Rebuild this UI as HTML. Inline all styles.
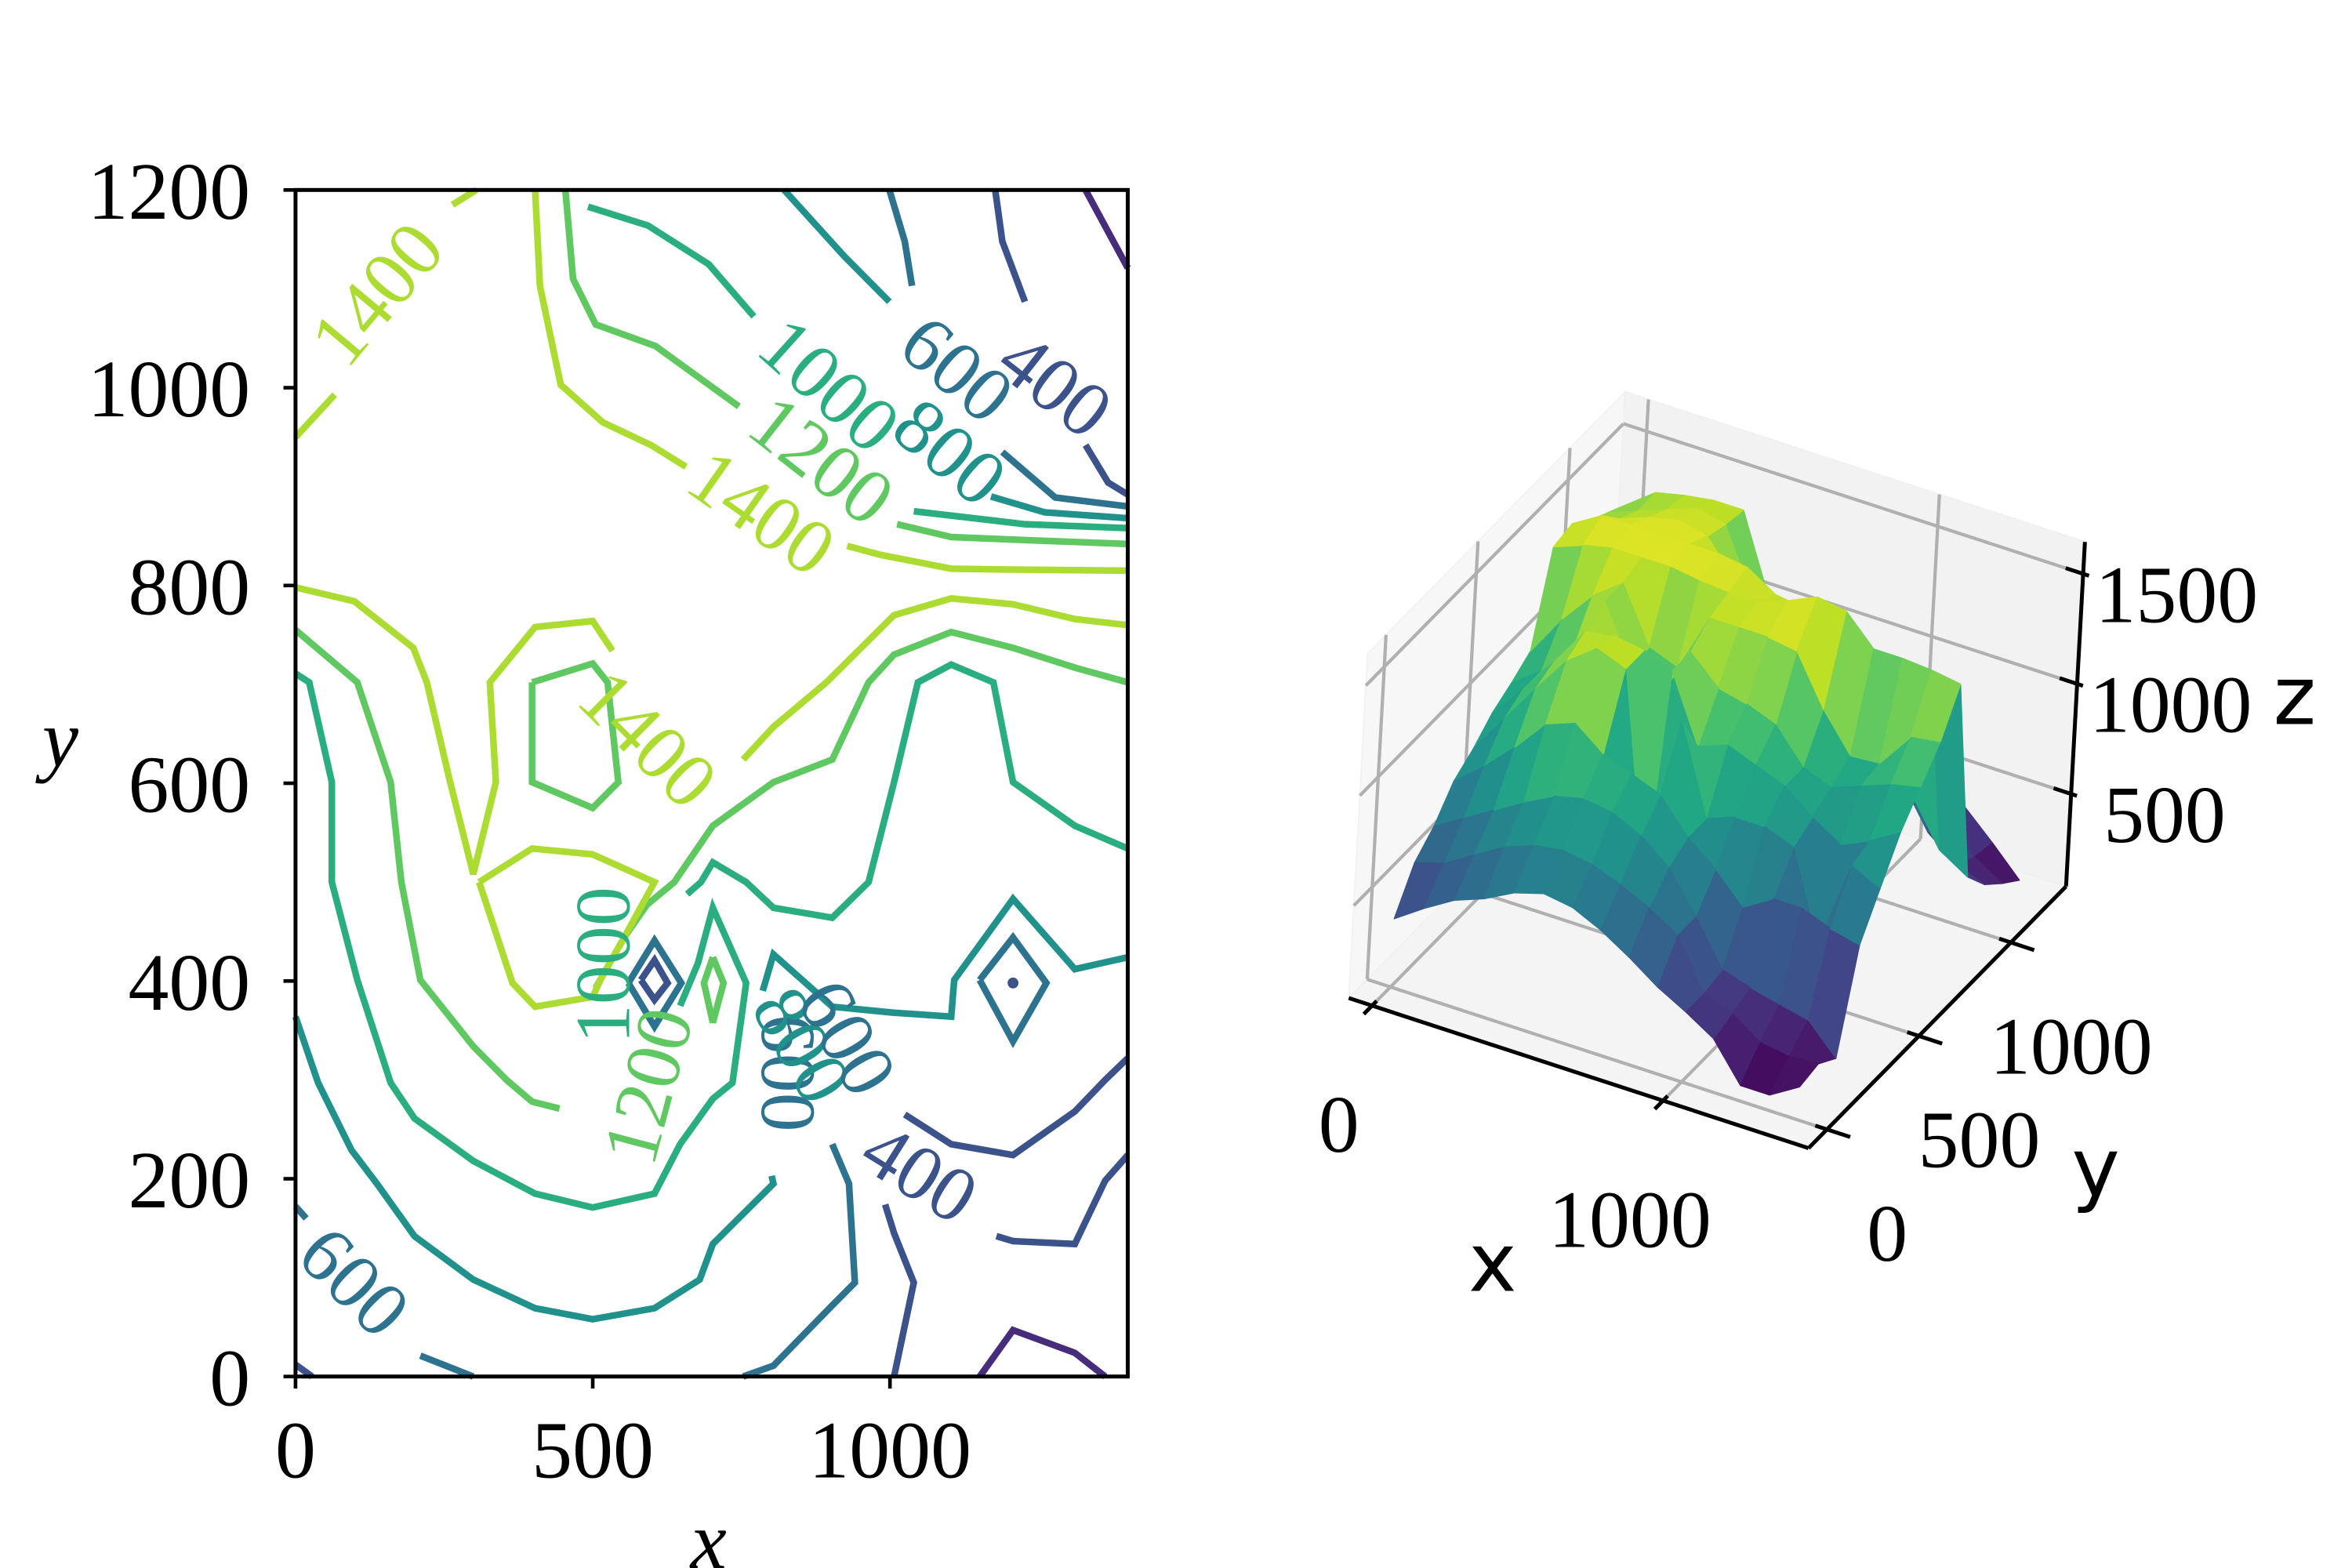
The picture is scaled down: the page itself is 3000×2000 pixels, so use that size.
<!DOCTYPE html>
<html><head><meta charset="utf-8"><title>Contour and surface plot</title>
<style>html,body{margin:0;padding:0;background:#fff;}svg{display:block;}</style>
</head><body>
<svg id="s" xmlns="http://www.w3.org/2000/svg" width="3000" height="2000" viewBox="0 0 1560 1040">
<rect x="0" y="0" width="1560" height="1040" fill="#fff"/>
<g id="contourPlot"></g>
<g id="surfacePlot"></g>
</svg>
<script>
// ---------- contour data (data units, flat x,y pairs) ----------
const xTickVals = [0, 500, 1000];
const yTickVals = [0, 200, 400, 600, 800, 1000, 1200];
const contourLevels = [200, 400, 600, 800, 1000, 1200, 1400];
const level200 = [[1329,1200,1400,1121],[1151,0,1207,47,1311,24,1362,0]];
const level400 = [[1177,1200,1189,1148,1227,1087],[1329,942,1367,904,1400,892],[1400,322,1362,300,1311,268,1207,224,1103,235,1025,265],[992,174,1007,145,1040,95,1007,0],[1179,142,1207,137,1311,134,1362,198,1400,224],[0,12,28,0],[581,401,604,421,626,398,604,381,581,401]];
const level600 = [[999,1200,1025,1148,1037,1103],[1189,935,1278,889,1400,880],[1151,401,1207,444,1263,398,1207,339,1151,401],[560,398,604,441,649,398,604,354,560,398],[0,172,18,160],[210,21,299,0],[753,0,804,11,903,72,941,95,931,195,903,235]];
const level800 = [[822,1200,923,1133,999,1087],[1170,890,1260,874,1400,868],[0,364,38,297,94,229,137,195,200,142,299,98,403,69,500,58,604,69,680,98,702,134,804,195,801,203],[786,390,804,427,903,374,1007,368,1103,364,1108,401,1207,483,1311,412,1400,424]];
const level1000 = [[492,1183,593,1164,695,1125,771,1072],[1040,875,1227,862,1400,858],[0,711,23,702,61,601,61,500,104,401,160,297,200,261,299,218,403,185,500,171,604,185,647,235,702,281,735,297,758,398,702,474,677,418,647,375],[659,488,682,500,702,520,758,500,804,474,903,464,964,500,1007,601,1047,702,1103,720,1174,702,1207,601,1311,557,1400,534]];
const level1200 = [[454,1200,467,1110,505,1064,606,1042,746,981],[1012,862,1103,849,1227,846,1400,842],[0,755,104,702,160,601,178,500,210,401,299,334,355,300,398,278,444,271],[398,702,500,721,525,702,543,601,500,575,398,601,398,702],[505,393,553,444,591,477,637,500,702,557,804,601,903,624,964,702,1007,730,1103,753,1207,737,1311,717,1400,702],[702,424,720,398,702,358,687,398,702,424]];
const level1400 = [[0,950,66,993],[264,1185,304,1200],[403,1200,411,1103,446,1003,517,965,598,942,657,920],[928,840,984,831,1103,817,1207,816,1400,815],[0,798,99,784,198,737,221,702,259,604,299,508,337,601,327,702,403,758,500,764,533,734],[753,624,804,657,893,702,1007,770,1103,787,1207,781,1311,766,1400,760],[309,500,398,534,500,528,604,500,553,444,515,404,500,384,403,374,365,398,309,500]];
const pitDot = [1207, 398];
const labelText  = ["1400","1400","1200","1000","800","600","400","1400","1000","1200","600","800","600","400","600"];
const labelLevel = [1400,1400,1200,1000,800,600,400,1400,1000,1200,600,800,600,400,600];
const labelX     = [137,784,885,898,1101,1113,1278,593,517,593,829,852,928,1050,99];
const labelY     = [1095,874,927,1003,935,1019,1003,645,416,294,307,335,343,206,96];
const labelAngle = [-50,35,38,42,40,40,38,45,-90,-75,90,60,60,32,45];

// ---------- surface data ----------
const gridX = [0,100,200,300,400,500,600,700,800,900,1000,1100,1200,1300,1400];
const gridY = [0,100,200,300,400,500,600,700,800,900,1000,1100,1200];
const surfaceZ = [
 [390,480,560,610,680,720,700,640,560,470,400,320,150,150,230],
 [560,600,680,760,810,830,810,760,700,620,400,350,260,240,250],
 [640,720,800,880,950,980,960,900,800,620,420,380,350,320,190],
 [760,870,1000,1150,1200,1100,1050,1000,850,750,620,700,700,650,620],
 [820,1000,1180,1350,1450,1400,450,1250,850,900,900,850,450,850,790],
 [900,1050,1220,1400,1420,1400,1350,1050,1100,1050,1000,900,820,880,960],
 [950,1050,1180,1450,1200,1100,1350,1230,1200,1150,1000,950,1000,1050,1080],
 [1010,1200,1350,1450,1200,1150,1420,1420,1420,1400,1180,1010,1020,1180,1200],
 [1400,1450,1480,1480,1480,1460,1450,1450,1500,1560,1540,1410,1410,1400,1380],
 [1420,1500,1500,1500,1500,1500,1480,1400,1380,1250,1000,800,700,500,420],
 [1350,1400,1450,1480,1450,1300,1300,1200,1100,1000,850,650,450,350,300],
 [1300,1350,1400,1450,1420,1150,1100,1000,900,780,650,500,420,300,220],
 [1250,1350,1380,1400,1400,1050,950,900,820,700,600,500,400,280,150]
];
const sxTicks = [0, 1000];
const syTicks = [0, 500, 1000];
const szTicks = [500, 1000, 1500];

// ---------- helpers ----------
const NS = "http://www.w3.org/2000/svg";
function mk(tag, parent, attrs) {
  const e = document.createElementNS(NS, tag);
  for (const k in attrs) e.setAttribute(k, attrs[k]);
  parent.appendChild(e);
  return e;
}
const vStops = ["#440154","#482475","#414487","#355f8d","#2a788e","#21918c","#22a884","#44bf70","#7ad151","#bddf26","#fde725"];
function hex2rgb(h){return [parseInt(h.substr(1,2),16),parseInt(h.substr(3,2),16),parseInt(h.substr(5,2),16)];}
function viridis(t) {
  t = Math.max(0, Math.min(1, t));
  const p = t * 10, i = Math.min(9, Math.floor(p)), f = p - i;
  const a = hex2rgb(vStops[i]), b = hex2rgb(vStops[i + 1]);
  return "rgb(" + a.map((v, k) => Math.round(v + (b[k] - v) * f)).join(",") + ")";
}
const serif = '"Liberation Serif", "DejaVu Serif", serif';
const sans = '"DejaVu Sans", "Liberation Sans", sans-serif';

// ---------- contour plot ----------
const cp = document.getElementById("contourPlot");
const AX = {l:196, r:748, t:126, b:913, xmax:1400, ymax:1200};
function sx(x){return AX.l + x * (AX.r - AX.l) / AX.xmax;}
function sy(y){return AX.b - y * (AX.b - AX.t) / AX.ymax;}
function levelColor(lv){return viridis(lv / 1600);}

const levelData = [level200, level400, level600, level800, level1000, level1200, level1400];
levelData.forEach(function(lines, li) {
  const lv = contourLevels[li];
  const g = mk("g", cp, {});
  
  
  lines.forEach(function(arr) {
    const pts = [];
    for (let i = 0; i < arr.length; i += 2) pts.push(sx(arr[i]).toFixed(1) + "," + sy(arr[i+1]).toFixed(1));
    const pl = mk("polyline", g, {points: pts.join(" "), fill: "none", stroke: levelColor(lv), "stroke-width": 4.4, "stroke-linejoin": "miter", "stroke-linecap": "butt"});
    
    
  });
});
const dot = mk("circle", cp, {cx: sx(pitDot[0]), cy: sy(pitDot[1]), r: 3.6, fill: levelColor(400)});



labelText.forEach(function(t, i) {
  const x = sx(labelX[i]), y = sy(labelY[i]);
  const tx = mk("text", cp, {x: x, y: y, "text-anchor": "middle", "dominant-baseline": "central", "font-family": serif, "font-size": 52, fill: levelColor(labelLevel[i]), transform: "rotate(" + labelAngle[i] + " " + x + " " + y + ")"});
  tx.textContent = t;
  
  
});

const frame = mk("rect", cp, {x: AX.l, y: AX.t, width: AX.r - AX.l, height: AX.b - AX.t, fill: "none", stroke: "#000", "stroke-width": 2.6});



xTickVals.forEach(function(v) {
  const x = sx(v);
  const tk = mk("line", cp, {x1: x, y1: AX.b, x2: x, y2: AX.b + 8, stroke: "#000", "stroke-width": 2.4});
  
  
  const tl = mk("text", cp, {x: x, y: 980, "text-anchor": "middle", "font-family": serif, "font-size": 54, fill: "#000"});
  tl.textContent = v;
  
  
});
yTickVals.forEach(function(v) {
  const y = sy(v);
  const tk = mk("line", cp, {x1: AX.l - 8, y1: y, x2: AX.l, y2: y, stroke: "#000", "stroke-width": 2.4});
  
  
  const tl = mk("text", cp, {x: 166, y: y + 19, "text-anchor": "end", "font-family": serif, "font-size": 54, fill: "#000"});
  tl.textContent = v;
  
  
});
const xt = mk("text", cp, {x: 470, y: 1040, "text-anchor": "middle", "font-family": serif, "font-style": "italic", "font-size": 54, fill: "#000"});
xt.textContent = "x";


const yt = mk("text", cp, {x: 40, y: 508, "text-anchor": "middle", "font-family": serif, "font-style": "italic", "font-size": 54, fill: "#000"});
yt.textContent = "y";



// ---------- 3D surface ----------
const sp = document.getElementById("surfacePlot");
const BOX = {x0:-80, x1:1500, y0:-100, y1:1300, z0:80, z1:1645};
function P(x, y, z) {
  return [921.6 + 0.193*x + 0.122*y + 0.008*z, 666.3 + 0.063*x - 0.124*y - 0.146*z];
}
function poly(parent, pts, attrs) {
  attrs.points = pts.map(p => p[0].toFixed(1) + "," + p[1].toFixed(1)).join(" ");
  return mk("polygon", parent, attrs);
}
const B = BOX;
const paneL = poly(sp, [P(B.x0,B.y0,B.z0),P(B.x0,B.y1,B.z0),P(B.x0,B.y1,B.z1),P(B.x0,B.y0,B.z1)], {fill:"#f7f7f7", stroke:"#f2f2f2", "stroke-width":1});


const paneB = poly(sp, [P(B.x0,B.y1,B.z0),P(B.x1,B.y1,B.z0),P(B.x1,B.y1,B.z1),P(B.x0,B.y1,B.z1)], {fill:"#f2f2f2", stroke:"#f0f0f0", "stroke-width":1});


const paneF = poly(sp, [P(B.x0,B.y0,B.z0),P(B.x1,B.y0,B.z0),P(B.x1,B.y1,B.z0),P(B.x0,B.y1,B.z0)], {fill:"#f4f4f4", stroke:"#f0f0f0", "stroke-width":1});



function gline(a, b, name) {
  const l = mk("line", sp, {x1:a[0], y1:a[1], x2:b[0], y2:b[1], stroke:"#b0b0b0", "stroke-width":2.2});
  
  
}
sxTicks.forEach(function(v){
  gline(P(v,B.y0,B.z0), P(v,B.y1,B.z0), 'floor-gridline-x');
  gline(P(v,B.y1,B.z0), P(v,B.y1,B.z1), 'back-gridline-x');
});
syTicks.forEach(function(v){
  gline(P(B.x0,v,B.z0), P(B.x1,v,B.z0), 'floor-gridline-y');
  gline(P(B.x0,v,B.z0), P(B.x0,v,B.z1), 'left-gridline-y');
});
szTicks.forEach(function(v){
  gline(P(B.x0,B.y0,v), P(B.x0,B.y1,v), 'left-gridline-z');
  gline(P(B.x0,B.y1,v), P(B.x1,B.y1,v), 'back-gridline-z');
});

// surface faces
let zmin = Infinity, zmax = -Infinity;
surfaceZ.forEach(r => r.forEach(v => { if (v < zmin) zmin = v; if (v > zmax) zmax = v; }));
const faces = [];
for (let j = 0; j < gridY.length - 1; j++) {
  for (let i = 0; i < gridX.length - 1; i++) {
    const c = [[gridX[i],gridY[j],surfaceZ[j][i]],[gridX[i+1],gridY[j],surfaceZ[j][i+1]],[gridX[i+1],gridY[j+1],surfaceZ[j+1][i+1]],[gridX[i],gridY[j+1],surfaceZ[j+1][i]]];
    let mx=0,my=0,mz=0;
    c.forEach(p => {mx+=p[0]/4; my+=p[1]/4; mz+=p[2]/4;});
    const d = 0.433*(mx-B.x0)/(B.x1-B.x0) - 0.75*(my-B.y0)/(B.y1-B.y0) + 0.5*(mz-B.z0)/(B.z1-B.z0);
    faces.push({c:c, z:mz, d:d});
  }
}
faces.sort((a,b) => a.d - b.d);
const sg = mk("g", sp, {});


faces.forEach(function(f){
  const col = viridis((f.z - zmin) / (zmax - zmin));
  const pg = poly(sg, f.c.map(p => P(p[0],p[1],p[2])), {fill: col, stroke: col, "stroke-width": 0.7, "stroke-linejoin": "round"});
  
  
});

// axis lines
function aline(a, b, name) {
  const l = mk("line", sp, {x1:a[0], y1:a[1], x2:b[0], y2:b[1], stroke:"#000", "stroke-width":2.6});
  
  
}
aline(P(B.x0,B.y0,B.z0), P(B.x1,B.y0,B.z0), 'x-axis-line-3d');
aline(P(B.x1,B.y0,B.z0), P(B.x1,B.y1,B.z0), 'y-axis-line-3d');
aline(P(B.x1,B.y1,B.z0), P(B.x1,B.y1,B.z1), 'z-axis-line-3d');

function label3d(txt, x, y, font, name) {
  const t = mk("text", sp, {x:x, y:y, "text-anchor":"middle", "dominant-baseline":"central", "font-family":font, "font-size":54, fill:"#000"});
  t.textContent = txt;
  
  
}
sxTicks.forEach(function(v){
  aline(P(v,B.y0+25,B.z0), P(v,B.y0-45,B.z0), 'x-tick-3d');
  const p = P(v,B.y0,B.z0);
  label3d(String(v), p[0]-22, p[1]+79, serif, 'x-tick-label-3d');
});
syTicks.forEach(function(v){
  aline(P(B.x1-40,v,B.z0), P(B.x1+80,v,B.z0), 'y-tick-3d');
  const p = P(B.x1,v,B.z0);
  label3d(String(v), p[0]+40, p[1]+69, serif, 'y-tick-label-3d');
});
szTicks.forEach(function(v){
  aline(P(B.x1-60,B.y1,v), P(B.x1+20,B.y1,v), 'z-tick-3d');
  const p = P(B.x1,B.y1,v);
  label3d(String(v), p[0]+62, p[1]+14, serif, 'z-tick-label-3d');
});
label3d("x", 990, 838, sans, 'x-axis-title-3d');
label3d("y", 1390, 775, sans, 'y-axis-title-3d');
label3d("z", 1522, 462, sans, 'z-axis-title-3d');
</script>
</body></html>
